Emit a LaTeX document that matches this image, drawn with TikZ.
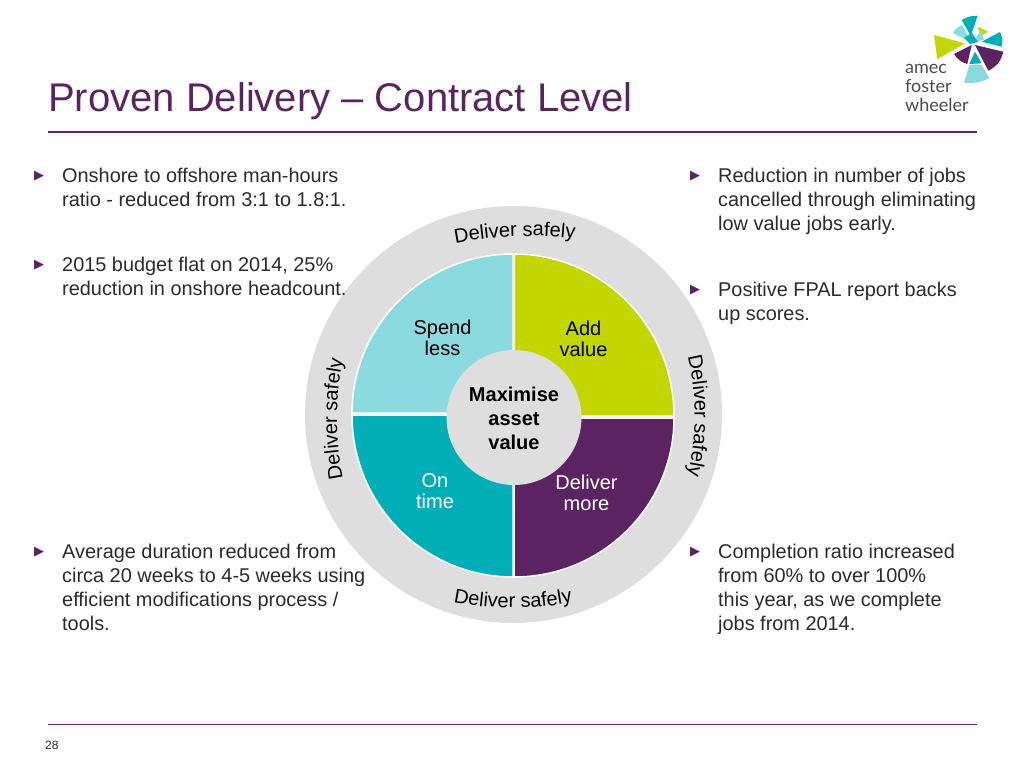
\documentclass[tikz,border=0pt]{standalone}
\usepackage{fontspec}
\setmainfont{Liberation Sans}
\newfontfamily\symfont{DejaVu Sans}
\newfontfamily\logofont{Lato}
\usetikzlibrary{decorations.text}
\definecolor{plum}{HTML}{5C2363}
\definecolor{lime}{HTML}{C4D600}
\definecolor{teal}{HTML}{00AEB8}
\definecolor{pale}{HTML}{8ADADF}
\definecolor{ring}{HTML}{DEDEDE}
\definecolor{ink}{HTML}{2B2B2B}
\tikzset{
  body/.style={anchor=north west,align=left,inner sep=0pt,text=ink,font=\fontsize{19.9}{24}\selectfont},
  tick/.style={anchor=center,inner sep=0pt,text=plum,font=\symfont\fontsize{13}{13}\selectfont},
  quad/.style={inner sep=0pt,align=center,font=\fontsize{20}{21}\selectfont},
  wedge/.style={draw=white,line width=1.5pt},
  rule/.style={plum,line width=1.2pt},
  curved/.style={decorate,decoration={text along path,text align=center,
    text={|\fontsize{20}{20}\selectfont\color{black}|#1}}}
}
\begin{document}
\begin{tikzpicture}[x=1pt,y=-1pt]
  \useasboundingbox (0,0) rectangle (1024,767);
  % Heading
  \node (title) [anchor=west,inner sep=0pt,text=plum,font=\fontsize{40}{40}\selectfont] at (48,101) {Proven Delivery – Contract Level};
  \draw[rule] (48,132) -- (977,132);
  \draw[rule] (48,724.5) -- (977,724.5);
  \node (page) [anchor=west,inner sep=0pt,text=ink,font=\fontsize{12}{12}\selectfont] at (45,745) {28};
  % Wheel
  \fill[ring] (513.5,414.5) circle (208.5);
  \filldraw[wedge,fill=pale] (513,413) -- (352,413) arc (180:270:161 and 159) -- cycle;
  \filldraw[wedge,fill=lime] (514,416) -- (514,254) arc (270:360:160 and 162) -- cycle;
  \filldraw[wedge,fill=teal] (513,415) -- (513,577) arc (90:180:161 and 162) -- cycle;
  \filldraw[wedge,fill=plum] (514,418) -- (674,418) arc (0:90:160 and 159) -- cycle;
  \node (hub) [circle,fill=ring,minimum size=135,inner sep=0pt] at (514,417.5) {};
  \node (maximise) [align=center,inner sep=0pt,font=\bfseries\fontsize{20}{24}\selectfont] at (514,418) {Maximise\\asset\\value};
  \node (spend) [quad] at (442.5,338) {Spend\\less};
  \node (add) [quad] at (583.5,339) {Add\\value};
  \node (ontime) [quad,text=white] at (435,491) {On\\time};
  \node (more) [quad,text=white] at (586.5,493) {Deliver\\more};
  % Deliver safely
  \path[curved=Deliver safely] ([shift={(256.8:394)}]530,630) arc (256.8:278.8:394);
  \path[curved=Deliver safely] ([shift={(-17:260)}]434.7,416) arc (-17:17:260);
  \path[curved=Deliver safely] ([shift={(104.5:300)}]513,308) arc (104.5:75.5:300);
  \path[curved=Deliver safely] ([shift={(165.5:300)}]637,419) arc (165.5:194.5:300);
  % Left column
  \node (tick1) [tick] at (39,176) {▶};
  \node (left1) [body] at (62,168) {Onshore to offshore man-hours\\ratio - reduced from 3:1 to 1.8:1.};
  \node (tick2) [tick] at (39,265) {▶};
  \node (left2) [body] at (62,257) {2015 budget flat on 2014, 25\%\\reduction in onshore headcount.};
  \node (tick3) [tick] at (39,552) {▶};
  \node (left3) [body] at (62,544) {Average duration reduced from\\circa 20 weeks to 4-5 weeks using\\efficient modifications process /\\tools.};
  % Right column
  \node (tick4) [tick] at (695,176) {▶};
  \node (right1) [body] at (718,168) {Reduction in number of jobs\\cancelled through eliminating\\low value jobs early.};
  \node (tick5) [tick] at (695,290) {▶};
  \node (right2) [body] at (718,282) {Positive FPAL report backs\\up scores.};
  \node (tick6) [tick] at (695,552) {▶};
  \node (right3) [body] at (718,544) {Completion ratio increased\\from 60\% to over 100\%\\this year, as we complete\\jobs from 2014.};
  % Logo
  \fill[pale] (971.7,42) -- (952.7,33) to[bend left=15] (961.7,25) -- cycle;
  \fill[teal] (970.7,36) -- (961.7,20) to[bend left=15] (977.7,15.7) -- cycle;
  \fill[lime] (978,26.7) -- (988,31.7) -- (980,36.7) -- cycle;
  \fill[pale] (973,42) -- (981,30) -- (984,40) -- cycle;
  \fill[teal] (981.7,41.7) -- (1000,32) to[bend left=20] (1001.7,46.7) -- cycle;
  \fill[teal] (964,38) -- (972,33) -- (978,42) -- (970,44) -- cycle;
  \fill[lime] (934,35) -- (965,43.3) -- (937.3,59.3) -- cycle;
  \fill[plum] (971.7,45) -- (967.3,64) to[bend left=20] (954,54) -- cycle;
  \fill[plum] (975,45) -- (1003.3,51.7) to[bend left=25] (988.3,70.7) -- cycle;
  \fill[teal] (975,51.7) -- (981.7,63.3) -- (969.3,64) -- cycle;
  \fill[pale] (969.3,65) -- (981.7,65) -- (989.3,78.3) to[bend left=15] (964,82.7) -- cycle;
  \node (amec) [anchor=north west,align=left,inner sep=0pt,text=ink!85,font=\logofont\fontsize{18}{19}\selectfont] at (905,64.5) {amec\\foster\\wheeler};
\end{tikzpicture}
\end{document}
